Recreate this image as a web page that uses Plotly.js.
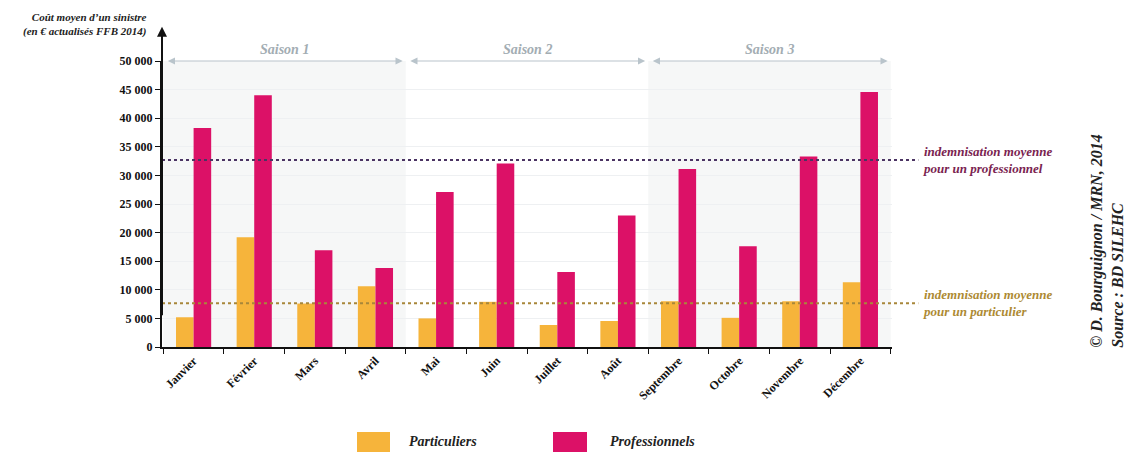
<!DOCTYPE html>
<html>
<head>
<meta charset="utf-8">
<script src="https://cdn.plot.ly/plotly-3.0.1.min.js"></script>
<style>html,body{margin:0;padding:0;background:#fff;}#chart{width:1128px;height:452px;}</style>
</head>
<body>
<div id="chart"></div>
<script>
const months = ['Janvier','Février','Mars','Avril','Mai','Juin','Juillet','Août','Septembre','Octobre','Novembre','Décembre'];
const particuliers = [5200, 19200, 7600, 10600, 5000, 7900, 3850, 4550, 8000, 5100, 8000, 11300];
const professionnels = [38300, 44000, 16900, 13800, 27100, 32100, 13100, 23000, 31100, 17600, 33300, 44600];
const moyenneProfessionnel = 32700;
const moyenneParticulier = 7650;
const saisons = ['Saison 1', 'Saison 2', 'Saison 3'];
const yTicks = [0, 5000, 10000, 15000, 20000, 25000, 30000, 35000, 40000, 45000, 50000];
const yTickText = ['0', '5 000', '10 000', '15 000', '20 000', '25 000', '30 000', '35 000', '40 000', '45 000', '50 000'];

const ORANGE = '#f6b43b';
const MAGENTA = '#dc1167';
const SERIF = '"Liberation Serif", "DejaVu Serif", serif';

const traces = [
  {type:'bar', name:'Particuliers', x:months, y:particuliers, marker:{color:ORANGE}, showlegend:false, hoverinfo:'skip'},
  {type:'bar', name:'Professionnels', x:months, y:professionnels, marker:{color:MAGENTA}, showlegend:false, hoverinfo:'skip'}
];

const shapes = [];
const annotations = [];

// season backgrounds (seasons 1 and 3 shaded)
saisons.forEach((s, i) => {
  const x0 = i*4 - 0.5, x1 = i*4 + 3.5;
  if (i !== 1) {
    shapes.push({type:'rect', xref:'x', yref:'y', x0:x0, x1:x1, y0:0, y1:50000, fillcolor:'#f6f7f7', line:{width:0}, layer:'below'});
  }
  annotations.push({xref:'x', yref:'y', axref:'x', ayref:'y', x:x1 - 0.05, y:50000, ax:x0 + 0.05, ay:50000,
    showarrow:true, arrowside:'end+start', arrowhead:2, arrowsize:1.2, arrowwidth:1.2, arrowcolor:'#b9c4cb', text:''});
  annotations.push({xref:'x', yref:'paper', x:(x0 + x1)/2, y:1.008, yanchor:'bottom', showarrow:false,
    text:'<b><i>' + s + '</i></b>', font:{family:SERIF, size:14, color:'#a3adb3'}});
});

// mean lines
shapes.push({type:'line', xref:'paper', yref:'y', x0:0, x1:1.036, y0:moyenneProfessionnel, y1:moyenneProfessionnel, line:{color:'#4b3463', width:2, dash:'dot'}});
shapes.push({type:'line', xref:'paper', yref:'y', x0:0, x1:1.036, y0:moyenneParticulier, y1:moyenneParticulier, line:{color:'#a8873a', width:2, dash:'dot'}});
annotations.push({xref:'paper', yref:'y', x:1.04, y:moyenneProfessionnel, xanchor:'left', yanchor:'middle', align:'left', showarrow:false,
  text:'<b><i>indemnisation moyenne<br>pour un professionnel</i></b>', font:{family:SERIF, size:13, color:'#7a2350'}});
annotations.push({xref:'paper', yref:'y', x:1.04, y:moyenneParticulier, xanchor:'left', yanchor:'middle', align:'left', showarrow:false,
  text:'<b><i>indemnisation moyenne<br>pour un particulier</i></b>', font:{family:SERIF, size:13, color:'#ad8a33'}});

// y axis arrow
annotations.push({xref:'paper', yref:'paper', axref:'pixel', ayref:'pixel', x:0, y:1.12, ax:0, ay:290,
  showarrow:true, arrowhead:2, arrowsize:1, arrowwidth:2, arrowcolor:'#111', text:''});

// y axis title
annotations.push({xref:'paper', yref:'paper', x:-0.018, y:1.075, xanchor:'right', yanchor:'bottom', align:'right', showarrow:false,
  text:'<b><i>Coût moyen d\u2019un sinistre<br>(en € actualisés FFB 2014)</i></b>', font:{family:SERIF, size:11, color:'#222'}});

// credits
annotations.push({xref:'paper', yref:'paper', x:1.295, y:-0.01, xanchor:'center', yanchor:'bottom', align:'left', textangle:-90, showarrow:false,
  text:'<b><i>© D. Bourguignon / MRN, 2014<br>Source : BD SILEHC</i></b>', font:{family:SERIF, size:16, color:'#222'}});

// legend (custom)
shapes.push({type:'rect', xref:'paper', yref:'paper', x0:(357-162)/730, x1:(390-162)/730, y0:-0.37, y1:-0.297, fillcolor:ORANGE, line:{width:0}});
shapes.push({type:'rect', xref:'paper', yref:'paper', x0:(553-162)/730, x1:(587-162)/730, y0:-0.37, y1:-0.297, fillcolor:MAGENTA, line:{width:0}});
annotations.push({xref:'paper', yref:'paper', x:(407-162)/730, y:-0.33, xanchor:'left', yanchor:'middle', showarrow:false,
  text:'<b><i>' + traces[0].name + '</i></b>', font:{family:SERIF, size:14, color:'#222'}});
annotations.push({xref:'paper', yref:'paper', x:(608-162)/730, y:-0.33, xanchor:'left', yanchor:'middle', showarrow:false,
  text:'<b><i>' + traces[1].name + '</i></b>', font:{family:SERIF, size:14, color:'#222'}});

const layout = {
  width:1128, height:452,
  margin:{l:162, r:236, t:61, b:105},
  paper_bgcolor:'#fff', plot_bgcolor:'rgba(0,0,0,0)',
  barmode:'group', bargap:0.42, bargroupgap:0,
  font:{family:SERIF, color:'#111'},
  xaxis:{
    type:'category', tickangle:-45, tickson:'boundaries', ticks:'outside', ticklen:5, tickcolor:'#111',
    showline:true, linecolor:'#111', linewidth:2, showgrid:false, zeroline:false, fixedrange:true,
    tickfont:{family:SERIF, size:12, color:'#111', weight:'bold'}
  },
  yaxis:{
    range:[0, 50000], tickvals:yTicks, ticktext:yTickText, ticks:'outside', ticklen:5, tickcolor:'#111',
    showline:true, linecolor:'#111', linewidth:2, showgrid:true, gridcolor:'#eef0f2', gridwidth:1,
    zeroline:false, fixedrange:true,
    tickfont:{family:SERIF, size:12, color:'#111', weight:'bold'}
  },
  shapes:shapes,
  annotations:annotations
};

Plotly.newPlot('chart', traces, layout, {displayModeBar:false, staticPlot:true});
</script>
</body>
</html>
